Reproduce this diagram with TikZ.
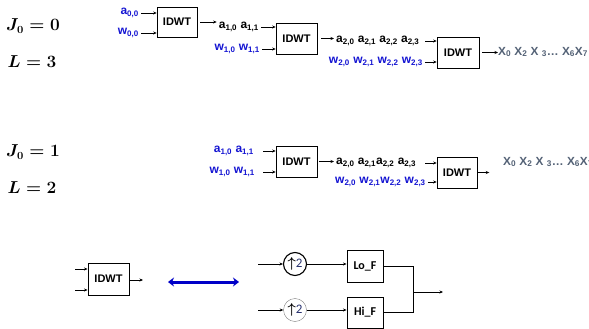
\documentclass[tikz,border=0pt]{standalone}
\usepackage{amsmath}
\usepackage{fontspec}
\setsansfont{Liberation Sans}
\newfontfamily\calib{Carlito}
\usetikzlibrary{arrows.meta}
\definecolor{wblue}{RGB}{20,20,210}
\definecolor{dblue}{RGB}{0,0,200}
\definecolor{xgray}{RGB}{84,98,118}
\definecolor{numblue}{RGB}{40,50,110}
\newcommand{\sbs}[1]{\textsubscript{#1}}
\begin{document}
\begin{tikzpicture}[x=1pt,y=-1pt,
 box/.style={draw, line width=0.6pt, minimum width=40pt, minimum height=30pt, inner sep=0pt, font=\sffamily\bfseries\fontsize{11}{13}\selectfont},
 fbox/.style={draw, line width=0.9pt, minimum width=36pt, minimum height=32pt, inner sep=0pt, font=\calib\bfseries\fontsize{12}{14}\selectfont},
 lbl/.style={font=\sffamily\bfseries\fontsize{12}{14}\selectfont, inner sep=2pt},
 blu/.style={lbl, text=wblue},
 blk/.style={lbl, text=black},
 xs/.style={font=\sffamily\bfseries\fontsize{11.8}{14}\selectfont, text=xgray, anchor=west, inner sep=0pt},
 eq/.style={font=\fontsize{16}{18}\selectfont\boldmath},
 arr/.style={-{Stealth[length=3.5pt,width=3pt]}, line width=0.6pt},
 up/.style={circle, draw, minimum size=23pt, inner sep=0pt, font=\calib\fontsize{13}{14}\selectfont},
]
\useasboundingbox (0,0) rectangle (589,329);

% ---------- top row ----------
\node[eq] (j0) at (33,26) {$J_0 = 0$};
\node[eq] (l3) at (32,62) {$L = 3$};
\node[box] (b1) at (177,22) {IDWT};
\node[blu,anchor=east] (a00) at (141,13) {a\sbs{0,0}};
\node[blu,anchor=east] (w00) at (141,33) {w\sbs{0,0}};
\draw[arr] (a00.east) -- (a00.east -| b1.west);
\draw[arr] (w00.east) -- (w00.east -| b1.west);

\node[box, minimum width=41pt, minimum height=31pt] (b2) at (296.5,38.5) {IDWT};
\node[blk,anchor=east] (a1) at (261,27) {a\sbs{1,0} a\sbs{1,1}};
\node[blu,anchor=east] (w1) at (262,49) {w\sbs{1,0} w\sbs{1,1}};
\draw[arr, shorten <=3pt] (b1.east) -- (b1.east -| a1.west);
\draw[arr] (a1.east) -- (a1.east -| b2.west);
\draw[arr] (w1.east) -- (w1.east -| b2.west);

\node[box, minimum width=42pt, minimum height=31pt] (b3) at (458,52.5) {IDWT};
\node[blk,anchor=west] (a2) at (334,41) {a\sbs{2,0} a\sbs{2,1} a\sbs{2,2} a\sbs{2,3}};
\node[blu,anchor=east] (w2) at (425,62) {w\sbs{2,0} w\sbs{2,1} w\sbs{2,2} w\sbs{2,3}};
\draw[arr, shorten <=4pt] (b2.east) -- (b2.east -| a2.west);
\draw[arr] (w2.east |- a2.east) -- (a2.east -| b3.west);
\draw[arr] (w2.east) -- (w2.east -| b3.west);
\node[xs] (x1) at (498,52) {X\sbs{0} X\sbs{2} X \sbs{3}\dots\ X\sbs{6}X\sbs{7}};
\draw[arr, shorten <=3pt] (b3.east) -- (b3.east -| x1.west);

% ---------- middle row ----------
\node[eq] (j1) at (33,152) {$J_0 = 1$};
\node[eq] (l2) at (32,188) {$L = 2$};
\node[box, minimum width=41pt, minimum height=31pt] (b4) at (296.5,161.5) {IDWT};
\node[blu,anchor=east] (a1m) at (256,151) {a\sbs{1,0} a\sbs{1,1}};
\node[blu,anchor=east] (w1m) at (257,172) {w\sbs{1,0} w\sbs{1,1}};
\draw[arr] ([xshift=7pt]a1m.east) -- (a1m.east -| b4.west);
\draw[arr] ([xshift=6pt]w1m.east) -- (w1m.east -| b4.west);

\node[box, minimum width=40pt, minimum height=31pt] (b5) at (457,172.5) {IDWT};
\node[blk,anchor=west] (a2m) at (334,163) {a\sbs{2,0} a\sbs{2,1}a\sbs{2,2} a\sbs{2,3}};
\node[blu,anchor=west] (w2m) at (333,182) {w\sbs{2,0} w\sbs{2,1}w\sbs{2,2} w\sbs{2,3}};
\draw[arr, shorten <=2pt] (b4.east) -- (b4.east -| a2m.west);
\draw[arr] ([xshift=7pt]a2m.east) -- (a2m.east -| b5.west);
\draw[arr] (w2m.east) -- (w2m.east -| b5.west);
\node[xs] (x2) at (503,162) {X\sbs{0} X\sbs{2} X \sbs{3}\dots\ X\sbs{6}X\sbs{7}};
\draw[arr] (b5.east) -- ++(12,0);

% ---------- bottom ----------
\node[box, line width=0.9pt, minimum width=41pt, minimum height=32pt] (b6) at (108.5,279) {IDWT};
\coordinate (in1) at (75,269);
\coordinate (in2) at (75,290);
\coordinate (out6) at (143,280);
\draw[arr, line width=0.9pt] (in1) -- (in1 -| b6.west);
\draw[arr, line width=0.9pt] (in2) -- (in2 -| b6.west);
\draw[arr, line width=0.9pt] (b6.east |- out6) -- (out6);

\coordinate (da1) at (168,282);
\coordinate (da2) at (239,282);
\draw[dblue, line width=3pt, {Stealth[length=6pt,width=9pt]}-{Stealth[length=6pt,width=9pt]}] (da1) -- (da2);

\node[up, line width=1.1pt] (c1) at (295,264) {{\fontsize{14}{14}\selectfont$\boldsymbol{\uparrow}$}\textcolor{numblue}{2}};
\node[up, line width=0.4pt, draw=gray] (c2) at (295,310) {{\fontsize{14}{14}\selectfont$\boldsymbol{\uparrow}$}\textcolor{numblue}{2}};
\coordinate (ci1) at (258,264);
\coordinate (ci2) at (258,310);
\draw[arr, line width=0.9pt] (ci1) -- (c1.west);
\draw[arr, line width=0.9pt] (ci2) -- (c2.west);

\node[fbox] (lo) at (365,266) {Lo\_F};
\node[fbox, minimum height=31pt] (hi) at (365,312.5) {Hi\_F};
\draw[arr, line width=0.9pt] (c1.east) -- (c1.east -| lo.west);
\draw[arr, line width=0.9pt] (c2.east) -- (c2.east -| hi.west);
\coordinate (m) at (413,292);
\coordinate (om) at (443,292);
\draw[line width=0.9pt] (lo.east) -| (m);
\draw[line width=0.9pt] (hi.east) -| (m);
\draw[arr, line width=0.9pt] (m) -- (om);
\end{tikzpicture}
\end{document}
